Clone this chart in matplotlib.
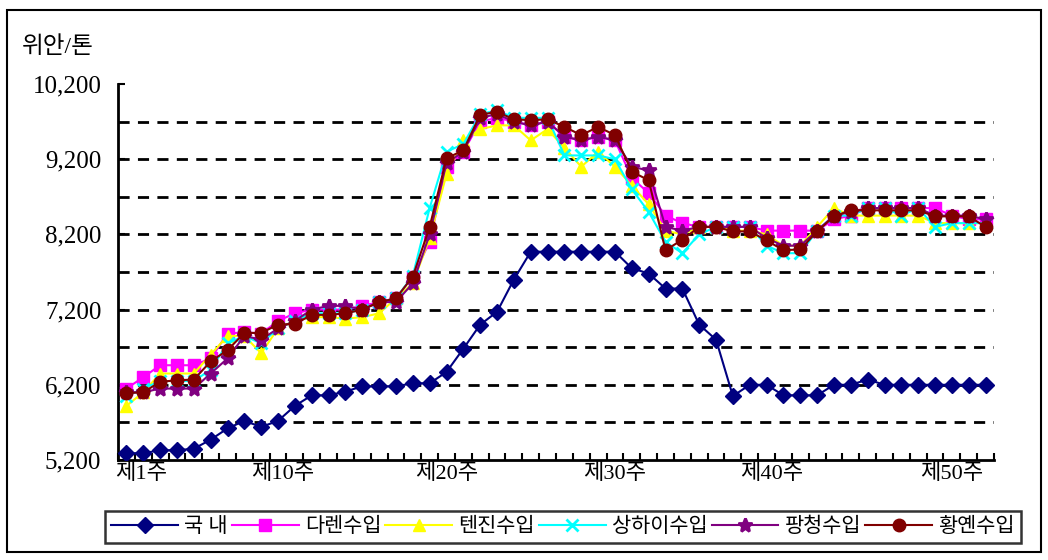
import numpy as np
import matplotlib
matplotlib.use('Agg')
import matplotlib.pyplot as plt
from matplotlib.patches import Rectangle

plt.rcParams['font.family'] = ['Liberation Serif', 'Noto Sans CJK KR', 'DejaVu Sans']

weeks = np.arange(1, 53)

# 국내 (domestic)
domestic = [5290, 5290, 5330, 5330, 5350, 5470, 5620, 5720, 5640, 5720,
            5920, 6060, 6060, 6110, 6180, 6180, 6180, 6220, 6220, 6370,
            6680, 7000, 7170, 7600, 7970, 7970, 7970, 7970, 7970, 7970,
            7750, 7680, 7480, 7480, 7000, 6800, 6050, 6200, 6200, 6060,
            6060, 6060, 6200, 6200, 6270, 6200, 6200, 6200, 6200, 6200,
            6200, 6200]
# 다렌수입
dalian = [6150, 6300, 6460, 6460, 6460, 6550, 6880, 6900, 6880, 7050,
          7150, 7200, 7200, 7200, 7250, 7300, 7350, 7640, 8100, 9100,
          9300, 9700, 9750, 9700, 9650, 9700, 9500, 9450, 9500, 9450,
          8950, 8750, 8450, 8350, 8300, 8300, 8300, 8300, 8250, 8250,
          8250, 8250, 8400, 8450, 8550, 8550, 8550, 8550, 8550, 8450,
          8400, 8400]
# 텐진수입
tianjin = [5920, 6100, 6350, 6350, 6350, 6600, 6850, 6850, 6620, 6950,
           7050, 7100, 7100, 7080, 7100, 7150, 7350, 7550, 8150, 9000,
           9450, 9600, 9650, 9650, 9450, 9600, 9350, 9100, 9300, 9100,
           8850, 8600, 8250, 8200, 8300, 8300, 8250, 8250, 8200, 8050,
           8050, 8300, 8550, 8450, 8450, 8450, 8450, 8450, 8350, 8350,
           8350, 8350]
# 상하이수입
shanghai = [6050, 6150, 6250, 6250, 6250, 6400, 6750, 6850, 6750, 6950,
            7050, 7150, 7150, 7150, 7200, 7300, 7350, 7650, 8550, 9300,
            9400, 9800, 9850, 9750, 9750, 9750, 9250, 9250, 9250, 9200,
            8800, 8500, 8100, 7950, 8200, 8300, 8300, 8300, 8050, 7950,
            7950, 8250, 8450, 8450, 8550, 8550, 8450, 8550, 8300, 8350,
            8350, 8350]
# 팡청수입
fangcheng = [6100, 6100, 6150, 6150, 6150, 6350, 6550, 6850, 6800, 6950,
             7050, 7200, 7250, 7250, 7200, 7300, 7300, 7550, 8200, 9150,
             9300, 9750, 9800, 9700, 9650, 9700, 9500, 9450, 9500, 9450,
             9100, 9050, 8300, 8250, 8300, 8300, 8300, 8300, 8150, 8050,
             8050, 8250, 8450, 8500, 8550, 8550, 8550, 8550, 8450, 8450,
             8450, 8400]
# 황옌수입
huangyan = [6090, 6100, 6240, 6260, 6270, 6510, 6660, 6890, 6890, 7000,
            7010, 7130, 7130, 7150, 7200, 7300, 7350, 7640, 8300, 9210,
            9320, 9790, 9830, 9730, 9720, 9730, 9630, 9520, 9630, 9520,
            9035, 8920, 7990, 8130, 8300, 8300, 8240, 8240, 8120, 7990,
            8000, 8240, 8440, 8520, 8520, 8520, 8520, 8520, 8440, 8440,
            8440, 8300]

series = [
    ('국 내', domestic, '#000080', 'D', 8),
    ('다렌수입', dalian, '#FF00FF', 's', 9),
    ('텐진수입', tianjin, '#FFFF00', '^', 9),
    ('상하이수입', shanghai, '#00FFFF', 'x', 8),
    ('팡청수입', fangcheng, '#800080', '*', 10),
    ('황옌수입', huangyan, '#800000', 'o', 9),
]

xtick_pos = [1.9, 10.3, 20, 30, 39.3, 50]
xtick_lab = ['제1주', '제10주', '제20주', '제30주', '제40주', '제50주']
ytick_val = [5200, 6200, 7200, 8200, 9200, 10200]

fig = plt.figure(figsize=(10.48, 5.6), dpi=100)
ax = fig.add_axes([118/1048, 100/560, 876/1048, 376/560])

# dashed grid every 500
for g in range(5700, 10200, 500):
    ax.axhline(g, color='black', ls=(0, (4, 3)), lw=2, zorder=1)

for name, vals, col, mk, ms in series:
    mew = 2 if mk in ('x', '*') else 1
    ax.plot(weeks, vals, color=col, marker=mk, ms=ms, mew=mew, lw=1.5,
            label=name, zorder=3)

ax.set_xlim(0.5, 52.5)
ax.set_ylim(5200, 10200)
ax.set_yticks(ytick_val)
ax.set_yticklabels(['{:,}'.format(v) for v in ytick_val], fontsize=18)
ax.set_xticks(xtick_pos)
ax.set_xticklabels(xtick_lab, fontsize=16)
ax.set_xticks(np.arange(0.5, 53, 1), minor=True)
ax.tick_params(axis='x', which='major', length=0, pad=3)
ax.tick_params(axis='x', which='minor', direction='in', length=5, width=1.5)
ax.tick_params(axis='y', direction='in', length=5, width=1.5, pad=12)

for s in ['top', 'right']:
    ax.spines[s].set_visible(False)
ax.spines['left'].set_linewidth(2)
ax.spines['bottom'].set_linewidth(2)

fig.text(22/1048, 1 - 47/560, '위안/톤', fontsize=17, va='center', ha='left')

leg = fig.legend(loc='center', bbox_to_anchor=(563/1048, 1 - 527/560), ncol=6,
                 fontsize=15, frameon=True, fancybox=False, edgecolor='black',
                 handlelength=3.2, handletextpad=0.3, columnspacing=0.2,
                 borderpad=0.3)
leg.get_frame().set_linewidth(1.8)

fig.patches.append(Rectangle((7/1048, 1 - 552/560), 1034/1048, 542/560,
                             transform=fig.transFigure, fill=False,
                             edgecolor='black', lw=1.5))

fig.savefig('out.png', dpi=100)
